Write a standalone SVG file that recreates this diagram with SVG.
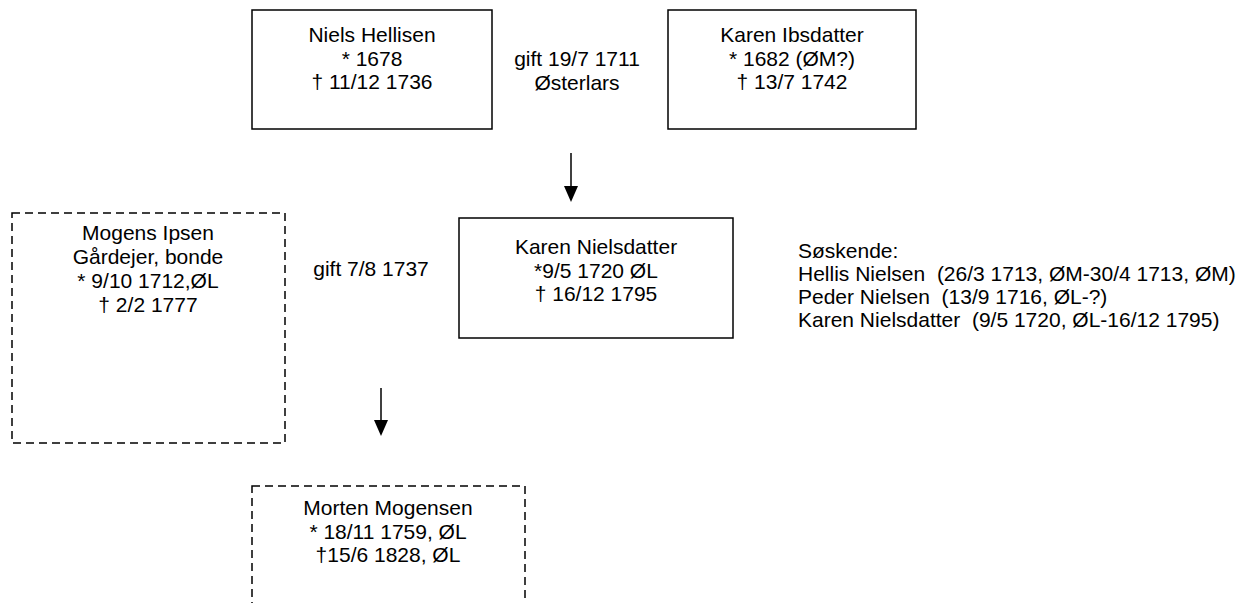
<svg xmlns="http://www.w3.org/2000/svg" width="1254" height="603" viewBox="0 0 1254 603">
<style>
.box{fill:#fff;stroke:#000;stroke-width:1.5}
.dash{fill:#fff;stroke:#000;stroke-width:1.5;stroke-dasharray:8 5}
text{font-family:"Liberation Sans",Arial,sans-serif;font-size:21px;fill:#000}
.c{text-anchor:middle}
.conn{stroke:#000;stroke-width:1.5;fill:none}
.head{fill:#000}
</style>
<rect width="1254" height="603" fill="#fff"/>
<g id="connectors">
<line class="conn" x1="571" y1="153" x2="571" y2="187"/>
<path class="head" d="M564,186 L578,186 L571,202 Z"/>
<line class="conn" x1="381" y1="388" x2="381" y2="421"/>
<path class="head" d="M374,420 L388,420 L381,436 Z"/>
</g>
<g id="niels">
<rect class="box" x="252" y="10" width="240" height="119"/>
<text class="c" x="372" y="42">Niels Hellisen</text>
<text class="c" x="372" y="65.5">* 1678</text>
<text class="c" x="372" y="89">† 11/12 1736</text>
</g>
<g id="gift1">
<text class="c" x="577" y="66">gift 19/7 1711</text>
<text class="c" x="577" y="90">Østerlars</text>
</g>
<g id="karen-ibsdatter">
<rect class="box" x="668" y="10" width="248" height="119"/>
<text class="c" x="792" y="42">Karen Ibsdatter</text>
<text class="c" x="792" y="65.5">* 1682 (ØM?)</text>
<text class="c" x="792" y="89">† 13/7 1742</text>
</g>
<g id="mogens">
<rect class="dash" x="12" y="213" width="273" height="230"/>
<text class="c" x="148" y="240">Mogens Ipsen</text>
<text class="c" x="148" y="264">Gårdejer, bonde</text>
<text class="c" x="148" y="288">* 9/10 1712,ØL</text>
<text class="c" x="148" y="312">† 2/2 1777</text>
</g>
<g id="gift2">
<text class="c" x="371" y="276">gift 7/8 1737</text>
</g>
<g id="karen-nielsdatter">
<rect class="box" x="459" y="218" width="274" height="120"/>
<text class="c" x="596" y="254">Karen Nielsdatter</text>
<text class="c" x="596" y="277.5">*9/5 1720 ØL</text>
<text class="c" x="596" y="301">† 16/12 1795</text>
</g>
<g id="soskende">
<text x="798" y="258">Søskende:</text>
<text x="798" y="281" xml:space="preserve">Hellis Nielsen  (26/3 1713, ØM-30/4 1713, ØM)</text>
<text x="798" y="304" xml:space="preserve">Peder Nielsen  (13/9 1716, ØL-?)</text>
<text x="798" y="327" xml:space="preserve">Karen Nielsdatter  (9/5 1720, ØL-16/12 1795)</text>
</g>
<g id="morten">
<rect class="dash" x="252" y="486" width="273" height="140"/>
<text class="c" x="388" y="515">Morten Mogensen</text>
<text class="c" x="388" y="538.5">* 18/11 1759, ØL</text>
<text class="c" x="388" y="562">†15/6 1828, ØL</text>
</g>
</svg>
